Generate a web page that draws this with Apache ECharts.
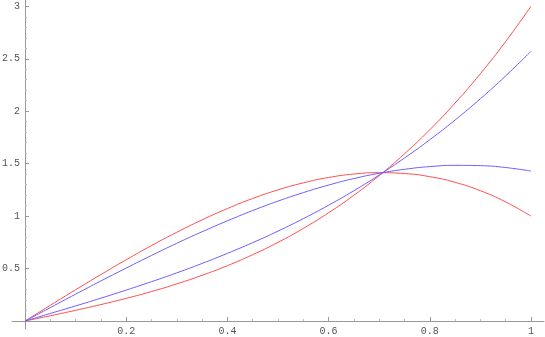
<!DOCTYPE html>
<html><head><meta charset="utf-8">
<style>html,body{margin:0;padding:0;background:#fff}#c{width:545px;height:337px}</style>
<script src="https://cdn.jsdelivr.net/npm/echarts@6/dist/echarts.min.js"></script>
</head><body><div id="c"></div>
<script>
const xs = [0,0.05,0.1,0.15,0.2,0.25,0.3,0.35,0.4,0.45,0.5,0.55,0.6,0.65,0.7,0.75,0.8,0.85,0.9,0.95,1];
const redUpper = [0,0.150,0.298,0.443,0.584,0.719,0.846,0.964,1.072,1.168,1.250,1.317,1.368,1.401,1.414,1.406,1.376,1.322,1.242,1.135,1.000];
const redLower = [0,0.050,0.102,0.157,0.216,0.281,0.354,0.436,0.528,0.632,0.750,0.883,1.032,1.199,1.386,1.594,1.824,2.078,2.358,2.665,3.000];
const blueUpper = [0,0.128,0.256,0.382,0.505,0.625,0.741,0.851,0.955,1.053,1.143,1.224,1.296,1.358,1.408,1.446,1.472,1.484,1.481,1.463,1.429];
const blueLower = [0,0.072,0.144,0.218,0.295,0.375,0.459,0.549,0.645,0.747,0.857,0.976,1.104,1.242,1.392,1.554,1.728,1.916,2.119,2.337,2.571];
const xMajor = [0.2,0.4,0.6,0.8,1];
const xMinor = [0.05,0.1,0.15,0.25,0.3,0.35,0.45,0.5,0.55,0.65,0.7,0.75,0.85,0.9,0.95];
const yMajor = [0.5,1,1.5,2,2.5,3];
const yMinor = [0.1,0.2,0.3,0.4,0.6,0.7,0.8,0.9,1.1,1.2,1.3,1.4,1.6,1.7,1.8,1.9,2.1,2.2,2.3,2.4,2.6,2.7,2.8,2.9];

const XMIN=-0.0257, XMAX=1.0257, YMIN=-0.076, YMAX=3.06;
const lab = {fontFamily:'Liberation Mono', fontSize:10, color:'#555'};
function pairs(ys){return xs.map((x,i)=>[x,ys[i]]);}
function xAxisDef(ticks, len, color, showLine, showLabel){
  return {type:'value', min:XMIN, max:XMAX, position:'bottom', offset:-8,
    axisLine:{show:showLine, onZero:false, lineStyle:{color:'#999', width:1}},
    axisTick:{show:true, inside:true, length:len, customValues:ticks, lineStyle:{color:color,width:1}},
    axisLabel:{show:showLabel, customValues:ticks, margin:5, formatter:v=>String(+v.toFixed(2)), ...lab},
    splitLine:{show:false}};
}
function yAxisDef(ticks, len, color, showLine, showLabel){
  return {type:'value', min:YMIN, max:YMAX, position:'left', offset:-13,
    axisLine:{show:showLine, onZero:false, lineStyle:{color:'#999', width:1}},
    axisTick:{show:true, inside:true, length:len, customValues:ticks, lineStyle:{color:color,width:1}},
    axisLabel:{show:showLabel, customValues:ticks, margin:5, formatter:v=>String(+v.toFixed(2)), ...lab},
    splitLine:{show:false}};
}
const chart = echarts.init(document.getElementById('c'), null, {renderer:'canvas'});
const ls = (c)=>({type:'line', showSymbol:false, symbol:'none', smooth:0.5, lineStyle:{color:c,width:1}, itemStyle:{color:c}, animation:false, xAxisIndex:0, yAxisIndex:0});
chart.setOption({
  animation:false,
  grid:{left:12, right:1, top:0, bottom:8, containLabel:false, outerBoundsMode:'none'},
  xAxis:[xAxisDef(xMajor,4,'#999',true,true), xAxisDef(xMinor,2,'#bbb',false,false)],
  yAxis:[yAxisDef(yMajor,4,'#999',true,true), yAxisDef(yMinor,2,'#bbb',false,false)],
  series:[
    Object.assign(ls('#ff4d4d'),{data:pairs(redUpper)}),
    Object.assign(ls('#ff4d4d'),{data:pairs(redLower)}),
    Object.assign(ls('#6e5cff'),{data:pairs(blueUpper)}),
    Object.assign(ls('#6e5cff'),{data:pairs(blueLower)})
  ]
});
</script></body></html>
